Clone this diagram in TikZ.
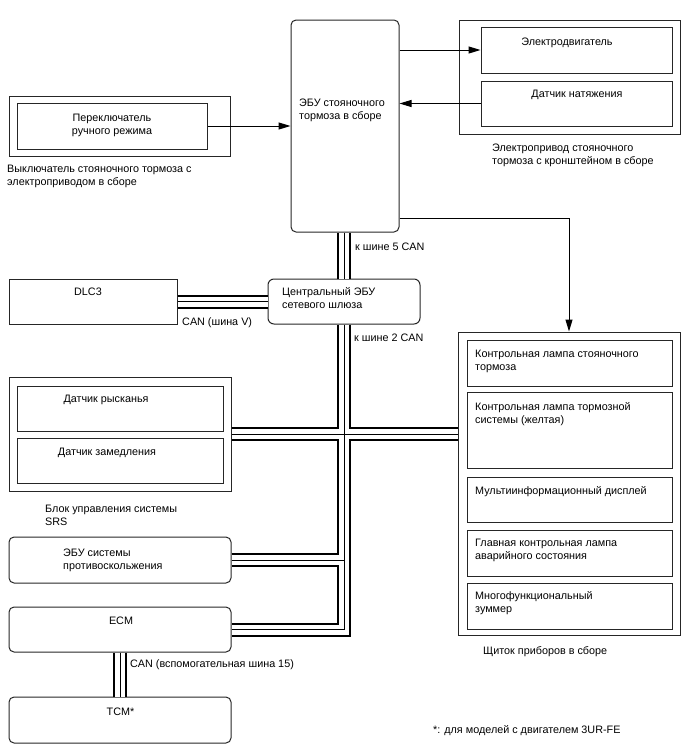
\documentclass[tikz,border=0pt]{standalone}
\usepackage{fontspec}
\setmainfont{Liberation Sans}
\usepackage{tikz}
\usetikzlibrary{arrows.meta}
\tikzset{
  blk/.style={draw=black!85,line width=1pt,inner sep=0pt},
  rblk/.style={blk,rounded corners=5pt},
  txt/.style={inner sep=0pt,align=left,font=\fontsize{10.8}{13}\selectfont},
  ltxt/.style={txt,anchor=base west},
  ctxt/.style={txt,align=center,anchor=base},
  sig/.style={-{Triangle[length=12pt,width=7pt]},line width=1pt},
}

\begin{document}
\begin{tikzpicture}[x=1pt,y=-1pt]
  \useasboundingbox (0,0) rectangle (688,755);

  % parking brake ECU
  \node[rblk,minimum width=108,minimum height=212] (ebu) at (345,126) {};
  \node[ltxt] (ebut) at (299,119) {ЭБУ стояночного\\тормоза в сборе};

  % switch
  \node[blk,minimum width=221,minimum height=60] (swo) at (119.5,126) {};
  \node[blk,minimum width=190,minimum height=46] (swi) at (112,126) {};
  \node[ctxt] (swt) at (112,134) {Переключатель\\ручного режима};
  \node[ltxt] (swl) at (7,185) {Выключатель стояночного тормоза с\\электроприводом в сборе};

  % actuator
  \node[blk,minimum width=221,minimum height=114] (apo) at (569.5,77) {};
  \node[blk,minimum width=191,minimum height=46] (mot) at (576.5,50) {};
  \node[blk,minimum width=191,minimum height=45] (ten) at (576.5,103.5) {};
  \node[ctxt] (mott) at (567,45) {Электродвигатель};
  \node[ctxt] (tent) at (577,97.5) {Датчик натяжения};
  \node[ltxt] (apl) at (492,164) {Электропривод стояночного\\тормоза с кронштейном в сборе};

  % gateway and DLC3
  \node[blk,minimum width=168,minimum height=45] (dlc) at (93,301.5) {};
  \node[ctxt] (dlct) at (88,295) {DLC3};
  \node[rblk,rounded corners=6pt,minimum width=152,minimum height=45] (gw) at (344,301.5) {};
  \node[ltxt] (gwt) at (282,308) {Центральный ЭБУ\\сетевого шлюза};
  \node[ltxt] (canv) at (182,325) {CAN (шина V)};
  \node[ltxt] (can5) at (355,250) {к шине 5 CAN};
  \node[ltxt] (can2) at (354,341) {к шине 2 CAN};

  % SRS
  \node[blk,minimum width=222,minimum height=114] (srs) at (120,434) {};
  \node[blk,minimum width=206,minimum height=45] (yaw) at (120,408.5) {};
  \node[blk,minimum width=206,minimum height=45] (dec) at (120,460.5) {};
  \node[ctxt] (yawt) at (106,402) {Датчик рысканья};
  \node[ctxt] (dect) at (107,455) {Датчик замедления};
  \node[ltxt] (srsl) at (45,525) {Блок управления системы\\SRS};

  % skid control, ECM, TCM
  \node[rblk,minimum width=222,minimum height=46] (as) at (120,560) {};
  \node[ltxt] (ast) at (63,569) {ЭБУ системы\\противоскольжения};
  \node[rblk,minimum width=222,minimum height=45] (ecm) at (120,629.5) {};
  \node[ctxt] (ecmt) at (121,624) {ECM};
  \node[rblk,minimum width=222,minimum height=46] (tcm) at (120,720) {};
  \node[ctxt] (tcmt) at (120.5,715.5) {TCM*};
  \node[ltxt] (can15) at (130,667) {CAN (вспомогательная шина 15)};

  % combination meter
  \node[blk,minimum width=222,minimum height=303] (cmb) at (569,483.5) {};
  \node[blk,minimum width=205,minimum height=46] (l1) at (569.5,363) {};
  \node[blk,minimum width=205,minimum height=76] (l2) at (569.5,430) {};
  \node[blk,minimum width=205,minimum height=45] (l3) at (569.5,499.5) {};
  \node[blk,minimum width=205,minimum height=46] (l4) at (569.5,553) {};
  \node[blk,minimum width=205,minimum height=46] (l5) at (569.5,606) {};
  \node[ltxt] (l1t) at (475,370) {Контрольная лампа стояночного\\тормоза};
  \node[ltxt] (l2t) at (475,423) {Контрольная лампа тормозной\\системы (желтая)};
  \node[ltxt] (l3t) at (475,494) {Мультиинформационный дисплей};
  \node[ltxt] (l4t) at (475,559) {Главная контрольная лампа\\аварийного состояния};
  \node[ltxt] (l5t) at (475,612.5) {Многофункциональный\\зуммер};
  \node[ltxt] (cmbl) at (483,654) {Щиток приборов в сборе};

  \node[ltxt] (note) at (433,733) {*: для моделей с двигателем 3UR-FE};

  % signal lines
  \draw[sig] (swi.east) -- (swi.east -| ebu.west);
  \draw[sig] (ebu.east |- mot.west) -- (mot.west);
  \draw[sig] (ten.west) -- (ten.west -| ebu.east);
  \draw[sig] ([yshift=14pt]ebu.south east) -| (cmb.north);

  % CAN buses: outer, fill, centre line
  \foreach \w/\c in {14pt/black,10pt/white,0.7pt/black} {
    \draw[line width=\w,draw=\c] (ebu.south -| gw.north) -- (gw.north);
    \draw[line width=\w,draw=\c] (gw.south) |- (ecm.east);
    \draw[line width=\w,draw=\c] (srs.east) -- (cmb.west |- srs.east);
    \draw[line width=\w,draw=\c] (as.east) -- (as.east -| gw.south);
    \draw[line width=\w,draw=\c] (dlc.east) -- (gw.west |- dlc.east);
    \draw[line width=\w,draw=\c] (ecm.south) -- (tcm.north);
  }
\end{tikzpicture}
\end{document}
